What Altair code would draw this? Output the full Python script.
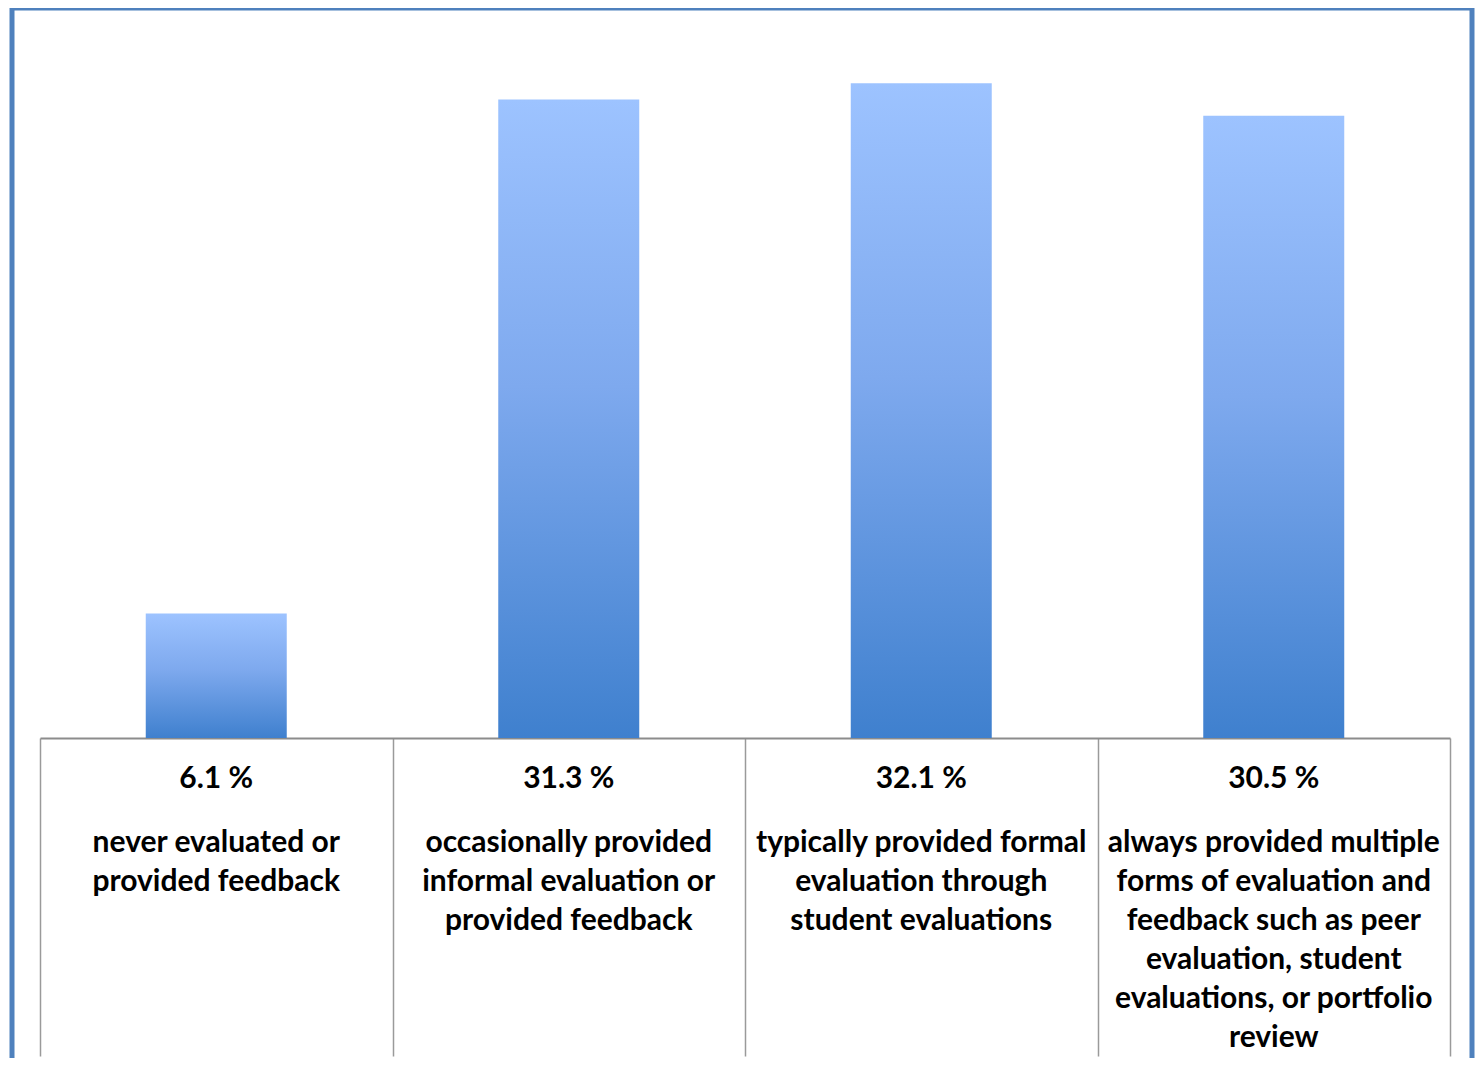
import altair as alt
import pandas as pd

categories = ["c1", "c2", "c3", "c4"]
values = [6.1, 31.3, 32.1, 30.5]
pct_labels = ["6.1 %", "31.3 %", "32.1 %", "30.5 %"]
desc_labels = [
    "never evaluated or\nprovided feedback",
    "occasionally provided\ninformal evaluation or\nprovided feedback",
    "typically provided formal\nevaluation through\nstudent evaluations",
    "always provided multiple\nforms of evaluation and\nfeedback such as peer\nevaluation, student\nevaluations, or portfolio\nreview",
]

df = pd.DataFrame({"cat": categories, "val": values, "pct": pct_labels, "desc": desc_labels})

FONT = "Lato"
FS = 30
W, H = 1410, 714

cat_axis = alt.Axis(
    title=None,
    labels=False,
    domainColor="#8c8c8c",
    domainWidth=2,
    ticks=True,
    tickBand="extent",
    tickSize=318,
    tickColor="#9a9a9a",
    tickWidth=1.5,
    grid=False,
)

grad = alt.Gradient(
    gradient="linear",
    stops=[
        alt.GradientStop(color="#9DC3FF", offset=0),
        alt.GradientStop(color="#7EA9EE", offset=0.45),
        alt.GradientStop(color="#3F80CE", offset=1),
    ],
    x1=0, x2=0, y1=0, y2=1,
)

bars = alt.Chart(df).mark_bar(color=grad).encode(
    x=alt.X("cat:N", sort=categories,
            scale=alt.Scale(paddingInner=0.6, paddingOuter=0.3), axis=None),
    y=alt.Y("val:Q", scale=alt.Scale(domain=[0, 35]), axis=None),
)

xtext = alt.X("cat:N", sort=categories,
              scale=alt.Scale(paddingInner=0, paddingOuter=0), axis=cat_axis)

pct = alt.Chart(df).mark_text(
    font=FONT, fontSize=FS, fontWeight="bold", color="#000000",
    baseline="alphabetic", align="center"
).encode(x=xtext, y=alt.value(764), text="pct:N")

desc = alt.Chart(df).mark_text(
    font=FONT, fontSize=FS, fontWeight="bold", color="#000000",
    baseline="alphabetic", align="center", lineBreak="\n", lineHeight=39,
).encode(x=xtext, y=alt.value(828), text="desc:N")

frame = alt.Chart(pd.DataFrame({"a": [0]})).mark_rect(
    filled=False, stroke="#4F81BD", strokeWidth=5
).encode(x=alt.value(-28), x2=alt.value(1432), y=alt.value(-16), y2=alt.value(1100))

labels_layer = alt.layer(pct, desc)

chart = alt.layer(frame, bars, labels_layer).resolve_scale(x="independent").properties(
    width=W, height=H,
    background="white",
    autosize=alt.AutoSizeParams(type="none"),
    padding={"left": 32, "top": 16, "right": 25, "bottom": 320},
).configure_view(stroke=None, strokeWidth=0)

chart.save("out.html", embed_options={"renderer": "svg", "actions": False})
